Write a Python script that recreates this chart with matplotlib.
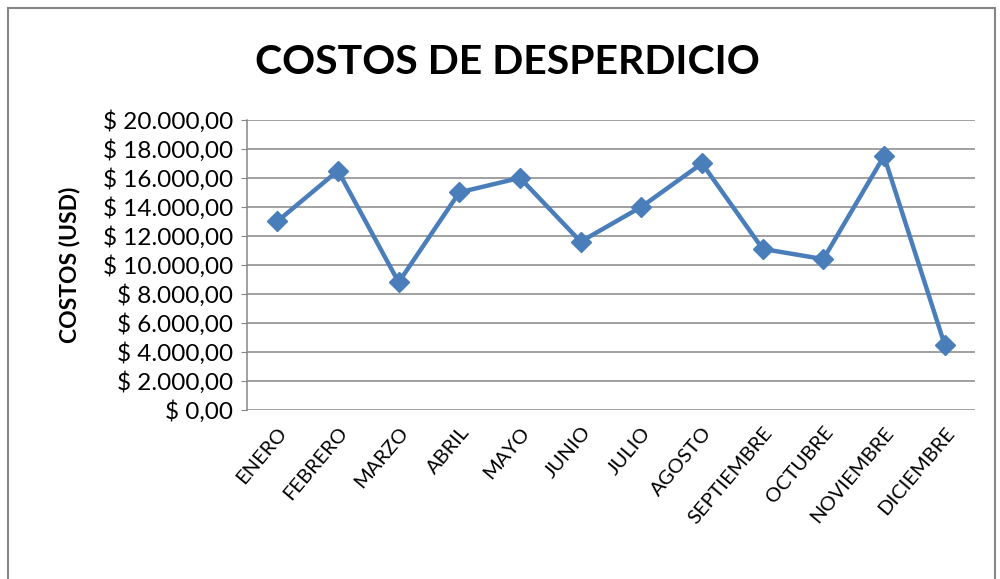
import matplotlib
matplotlib.use("Agg")
import matplotlib.pyplot as plt
from matplotlib.patches import Rectangle

plt.rcParams['font.family'] = ['Lato', 'DejaVu Sans']

# Datos
meses = ["ENERO", "FEBRERO", "MARZO", "ABRIL", "MAYO", "JUNIO", "JULIO",
         "AGOSTO", "SEPTIEMBRE", "OCTUBRE", "NOVIEMBRE", "DICIEMBRE"]
costos = [13000, 16500, 8800, 15000, 16000, 11600, 14000,
          17000, 11100, 10400, 17500, 4500]
y_ticks = list(range(0, 20001, 2000))


def formato_usd(v):
    s = f"{v:,.2f}".replace(",", "X").replace(".", ",").replace("X", ".")
    return "$ " + s


fig = plt.figure(figsize=(10, 5.79), dpi=100)
ax = fig.add_axes([0.247, 0.292, 0.728, 0.501])

x = list(range(len(meses)))
ax.plot(x, costos, color="#4A7EBB", linewidth=3.2, marker="D",
        markersize=10, markeredgecolor="#4A7EBB", zorder=3)

ax.set_xlim(-0.5, len(meses) - 0.5)
ax.set_ylim(0, 20000)
ax.set_yticks(y_ticks)
ax.set_yticklabels([formato_usd(v) for v in y_ticks], fontsize=17.5)
ax.set_xticks(x)
ax.set_xticklabels(meses, rotation=50, ha="right", rotation_mode="anchor",
                   fontsize=14.5)
ax.tick_params(axis="x", length=0, pad=10)
ax.tick_params(axis="y", length=4, color="#868686", pad=6)
ax.grid(axis="y", color="#868686", linewidth=1.1)
ax.set_axisbelow(True)
for lado in ["top", "right", "bottom"]:
    ax.spines[lado].set_visible(False)
ax.spines["left"].set_color("#868686")
ax.spines["left"].set_linewidth(1.1)

ax.set_ylabel("COSTOS (USD)", fontsize=16.5, fontweight="bold", labelpad=16)
fig.text(0.507, 0.892, "COSTOS DE DESPERDICIO", fontsize=29.5,
         fontweight="bold", ha="center", va="center")

# marco del gráfico
fig.patches.append(Rectangle((0.008, -0.02), 0.987, 1.007,
                             transform=fig.transFigure, fill=False,
                             edgecolor="#868686", linewidth=1.5))

fig.savefig("out.png", dpi=100)
